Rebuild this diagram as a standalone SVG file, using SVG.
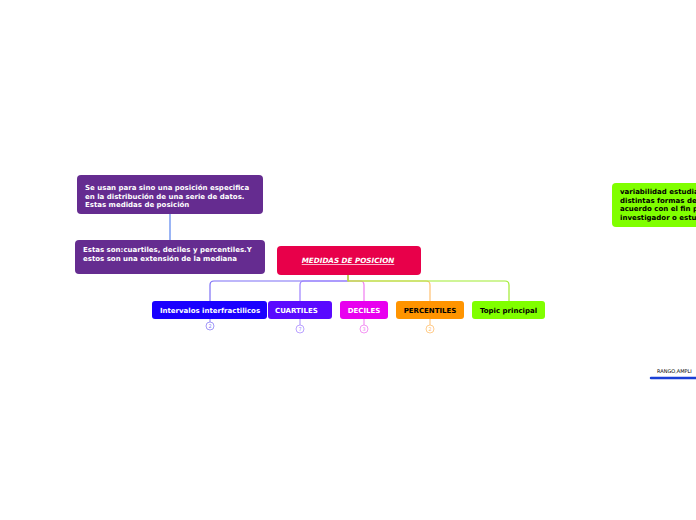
<svg xmlns="http://www.w3.org/2000/svg" width="696" height="520" viewBox="0 0 696 520">
<style>
.t{font-family:"DejaVu Sans",Verdana,sans-serif;font-weight:bold;font-size:7px}
.w{fill:#ffffff}
.k{fill:#000000}
.c{fill:none;stroke-width:1.2}
.n{font-family:"DejaVu Sans",sans-serif;font-size:5px;text-anchor:middle}
</style>
<rect width="696" height="520" fill="#ffffff"/>
<g id="connectors">
<path d="M170,214 V240" stroke="#7a9cf2" stroke-width="1.5" fill="none"/>
<path class="c" d="M348,275 V281 H214 Q210,281 210,285 V301" stroke="#7d6ff6"/>
<path class="c" d="M348,275 V281 H304 Q300,281 300,285 V301" stroke="#9c80ff"/>
<path class="c" d="M348,275 V281 H360 Q364,281 364,285 V301" stroke="#f07cf0"/>
<path class="c" d="M348,275 V281 H426 Q430,281 430,285 V301" stroke="#ffc070"/>
<path class="c" d="M348,275 V281 H505 Q509,281 509,285 V301" stroke="#a0ec30"/>
<path d="M651,378 H696" stroke="#1a3fd6" stroke-width="2.5" stroke-linecap="round" fill="none"/>
</g>
<g id="node-uso">
<rect x="77" y="175" width="186" height="39" rx="4" fill="#652c90"/>
<text class="t w" x="85" y="190">Se usan para sino una posición especifica</text>
<text class="t w" x="85" y="198.5">en la distribución de una serie de datos.</text>
<text class="t w" x="85" y="207">Estas medidas de posición</text>
</g>
<g id="node-estas">
<rect x="75" y="240" width="190" height="34" rx="4" fill="#652c90"/>
<text class="t w" x="83" y="252">Estas son:cuartiles, deciles y percentiles.Y</text>
<text class="t w" x="83" y="260.5">estos son una extensión de la mediana</text>
</g>
<g id="node-main">
<rect x="277" y="246" width="144" height="29" rx="4" fill="#e8004a"/>
<text class="t w" x="348" y="263" text-anchor="middle" font-style="italic" text-decoration="underline" style="font-size:7.2px">MEDIDAS DE POSICION </text>
</g>
<g id="node-intervalos">
<rect x="152" y="301" width="115" height="18" rx="3" fill="#1a00ff"/>
<text class="t w" x="210" y="312.5" text-anchor="middle">Intervalos interfractilicos</text>
<path d="M210,319 V322" stroke="#8c7ff6" stroke-width="1"/>
<circle cx="210" cy="326" r="4" fill="#ffffff" stroke="#8c7ff6" stroke-width="0.8"/>
<text class="n" x="210" y="327.8" fill="#8c7ff6">2</text>
</g>
<g id="node-cuartiles">
<rect x="268" y="301" width="64" height="18" rx="3" fill="#5a0aff"/>
<text class="t w" x="275" y="312.5">CUARTILES</text>
<path d="M300,319 V325" stroke="#a88cff" stroke-width="1"/>
<circle cx="300" cy="329" r="4" fill="#ffffff" stroke="#a88cff" stroke-width="0.8"/>
<text class="n" x="300" y="330.8" fill="#a88cff">7</text>
</g>
<g id="node-deciles">
<rect x="340" y="301" width="48" height="18" rx="3" fill="#e800ef"/>
<text class="t w" x="364" y="312.5" text-anchor="middle">DECILES</text>
<path d="M364,319 V325" stroke="#f07cf0" stroke-width="1"/>
<circle cx="364" cy="329" r="4" fill="#ffffff" stroke="#f07cf0" stroke-width="0.8"/>
<text class="n" x="364" y="330.8" fill="#f07cf0">3</text>
</g>
<g id="node-percentiles">
<rect x="396" y="301" width="68" height="18" rx="3" fill="#ff9400"/>
<text class="t k" x="430" y="312.5" text-anchor="middle">PERCENTILES</text>
<path d="M430,319 V325" stroke="#ffc070" stroke-width="1"/>
<circle cx="430" cy="329" r="4" fill="#ffffff" stroke="#ffc070" stroke-width="0.8"/>
<text class="n" x="430" y="330.8" fill="#ffc070">2</text>
</g>
<g id="node-topic">
<rect x="472" y="301" width="73" height="18" rx="3" fill="#80ff00"/>
<text class="t k" x="508.5" y="312.5" text-anchor="middle">Topic principal</text>
</g>
<g id="node-variabilidad">
<rect x="612" y="183" width="100" height="44" rx="4" fill="#80ff00"/>
<text class="t k" x="620" y="194">variabilidad estudia</text>
<text class="t k" x="620" y="202.5">distintas formas de</text>
<text class="t k" x="620" y="211">acuerdo con el fin p</text>
<text class="t k" x="620" y="219.5">investigador o estu</text>
</g>
<g id="node-rango">
<text x="657" y="373" style="font-family:'DejaVu Sans',sans-serif;font-size:5px" fill="#000000">RANGO,AMPLI</text>
</g>
</svg>
